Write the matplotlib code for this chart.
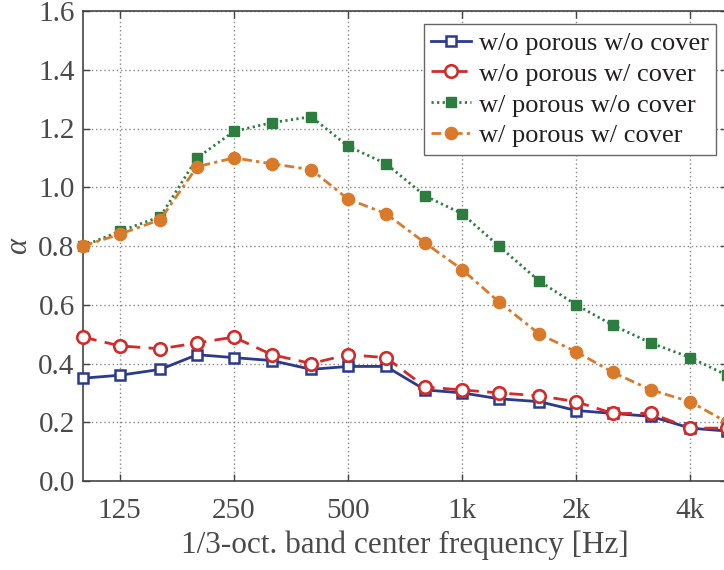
import matplotlib
matplotlib.use("Agg")
import matplotlib.pyplot as plt
import numpy as np

plt.rcParams['font.family'] = ['Liberation Serif', 'DejaVu Serif']

freqs = [100, 125, 160, 200, 250, 315, 400, 500, 630, 800, 1000, 1250, 1600, 2000, 2500, 3150, 4000, 5000]
wo_por_wo_cov = [0.35, 0.36, 0.38, 0.43, 0.42, 0.41, 0.38, 0.39, 0.39, 0.31, 0.30, 0.28, 0.27, 0.24, 0.23, 0.22, 0.18, 0.17]
wo_por_w_cov = [0.49, 0.46, 0.45, 0.47, 0.49, 0.43, 0.40, 0.43, 0.42, 0.32, 0.31, 0.30, 0.29, 0.27, 0.23, 0.23, 0.18, 0.18]
w_por_wo_cov = [0.80, 0.85, 0.90, 1.10, 1.19, 1.22, 1.24, 1.14, 1.08, 0.97, 0.91, 0.80, 0.68, 0.60, 0.53, 0.47, 0.42, 0.36]
w_por_w_cov = [0.80, 0.84, 0.89, 1.07, 1.10, 1.08, 1.06, 0.96, 0.91, 0.81, 0.72, 0.61, 0.50, 0.44, 0.37, 0.31, 0.27, 0.20]

labels = ["w/o porous w/o cover", "w/o porous w/ cover", "w/ porous w/o cover", "w/ porous w/ cover"]
xticks = [125, 250, 500, 1000, 2000, 4000]
xticklabels = ["125", "250", "500", "1k", "2k", "4k"]
yticks = [0.0, 0.2, 0.4, 0.6, 0.8, 1.0, 1.2, 1.4, 1.6]

fig = plt.figure(figsize=(7.24, 5.70), dpi=100)
ax = fig.add_axes([83/724, 89/570, (727-83)/724, 470/570])

blue = '#2b3a8c'
red = '#d42a28'
green = '#2e7d40'
orange = '#d97a2b'

ax.plot(freqs, wo_por_wo_cov, color=blue, lw=2.0, ls='-', marker='s', ms=7.5,
        mfc='white', mec=blue, mew=1.8, label=labels[0], clip_on=False, zorder=5)
ax.plot(freqs, wo_por_w_cov, color=red, lw=2.0, dashes=(5, 3), marker='o', ms=9,
        mfc='white', mec=red, mew=1.9, label=labels[1], clip_on=False, zorder=5)
ax.plot(freqs, w_por_wo_cov, color=green, lw=2.0, ls=(0, (0.8, 1.2)), marker='s', ms=7.7,
        mfc=green, mec=green, label=labels[2], clip_on=False, zorder=4)
ax.plot(freqs, w_por_w_cov, color=orange, lw=2.0, dashes=(3.5, 1.5, 1.2, 1.5), marker='o', ms=8.8,
        mfc=orange, mec=orange, label=labels[3], clip_on=False, zorder=4)

ax.set_xscale('log')
ax.set_xlim(100, 5000)
ax.set_ylim(0, 1.6)
ax.set_xticks(xticks)
ax.set_xticklabels(xticklabels)
ax.xaxis.set_minor_locator(matplotlib.ticker.NullLocator())
ax.set_yticks(yticks)
ax.set_yticklabels([f"{v:.1f}" for v in yticks])

spine_col = '#444444'
for s in ax.spines.values():
    s.set_color(spine_col)
    s.set_linewidth(1.2)
ax.tick_params(direction='in', top=True, right=True, length=5, width=1.0,
               color=spine_col, labelsize=21, labelcolor='#4a4a4a', pad=6)
ax.tick_params(axis='x', pad=12)
ax.grid(True, which='major', ls=(0, (1, 2)), color='#888888', lw=1.0)

ax.set_xlabel("1/3-oct. band center frequency [Hz]", fontsize=22.5, color='#4a4a4a', labelpad=5)
ax.set_ylabel("α", fontsize=22, color='#4a4a4a', style='italic', labelpad=4)

leg = ax.legend(loc='upper right', bbox_to_anchor=(715/727, 1 - 13/470), bbox_transform=ax.transAxes,
                fontsize=19, frameon=True, fancybox=False, framealpha=1, edgecolor='#666666',
                handlelength=1.5, handletextpad=0.3, borderpad=0.28, labelspacing=0.28,
                borderaxespad=0)
leg.get_frame().set_linewidth(1.0)
for t in leg.get_texts():
    t.set_color('#231f20')

fig.savefig("out.png", dpi=100)
